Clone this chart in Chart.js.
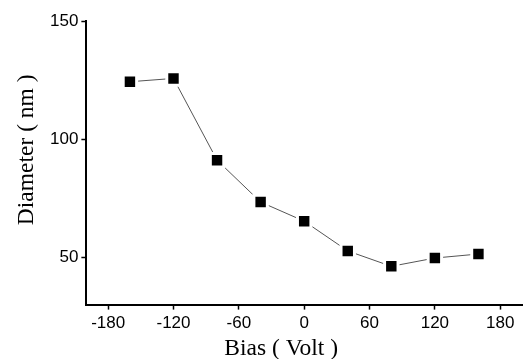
<!DOCTYPE html>
<html>
<head>
<meta charset="utf-8">
<script src="https://cdn.jsdelivr.net/npm/chart.js@4/dist/chart.umd.min.js"></script>
<style>
html,body{margin:0;padding:0;background:#fff;overflow:hidden;}
canvas{display:block;}
</style>
</head>
<body>
<canvas id="c" width="523" height="359"></canvas>
<script>
const biasVolts = [-160, -120, -80, -40, 0, 40, 80, 120, 160];
const diameterNm = [124.3, 125.7, 91.1, 73.4, 65.3, 52.7, 46.2, 49.7, 51.4];
const xTicks = [-180, -120, -60, 0, 60, 120, 180];
const yTicks = [50, 100, 150];
const xTitle = 'Bias ( Volt )';
const yTitle = 'Diameter ( nm )';

const points = biasVolts.map((x, i) => ({x: x, y: diameterNm[i]}));

const SANS = "'Liberation Sans', Arial, sans-serif";
const SERIF = "'Liberation Serif', 'Times New Roman', serif";

const titlesPlugin = {
  id: 'axisTitles',
  afterDraw(chart) {
    const ctx = chart.ctx;
    const a = chart.chartArea;
    ctx.save();
    ctx.fillStyle = '#000';
    ctx.font = '23.5px ' + SERIF;
    ctx.textAlign = 'center';
    ctx.textBaseline = 'alphabetic';
    ctx.fillText(xTitle, (a.left + a.right) / 2 - 23, a.bottom + 50);
    ctx.translate(a.left - 60, (a.top + a.bottom) / 2 - 13);
    ctx.rotate(-Math.PI / 2);
    ctx.textBaseline = 'middle';
    ctx.fillText(yTitle, 0, 0);
    ctx.restore();
  }
};

new Chart(document.getElementById('c'), {
  type: 'scatter',
  data: {
    datasets: [{
      data: points,
      showLine: true,
      borderColor: '#555',
      borderWidth: 1,
      pointStyle: 'rect',
      pointRadius: 9.5,
      pointHoverRadius: 9.5,
      pointBackgroundColor: '#000',
      pointBorderColor: '#fff',
      pointBorderWidth: 3
    }]
  },
  plugins: [titlesPlugin],
  options: {
    responsive: false,
    animation: false,
    events: [],
    layout: {autoPadding: false, padding: {top: 21, right: 1, bottom: 21, left: 47}},
    plugins: {legend: {display: false}, tooltip: {enabled: false}},
    scales: {
      x: {
        type: 'linear',
        min: -200, max: 200,
        afterBuildTicks: (s) => { s.ticks = xTicks.map(v => ({value: v})); },
        afterFit: (s) => { s.paddingRight = 0; s.paddingLeft = 0; },
        grid: {display: true, drawOnChartArea: false, tickLength: 5, tickColor: '#000', tickWidth: 1.5},
        border: {display: true, color: '#000', width: 2},
        ticks: {color: '#000', font: {family: SANS, size: 17}, padding: 4, maxRotation: 0, autoSkip: false},
        title: {display: false}
      },
      y: {
        type: 'linear',
        min: 30, max: 150,
        afterBuildTicks: (s) => { s.ticks = yTicks.map(v => ({value: v})); },
        afterFit: (s) => { s.paddingTop = 0; s.paddingBottom = 0; },
        grid: {display: true, drawOnChartArea: false, tickLength: 5, tickColor: '#000', tickWidth: 1.5},
        border: {display: true, color: '#000', width: 2},
        ticks: {color: '#000', font: {family: SANS, size: 17}, padding: 3},
        title: {display: false}
      }
    }
  }
});
</script>
</body>
</html>
